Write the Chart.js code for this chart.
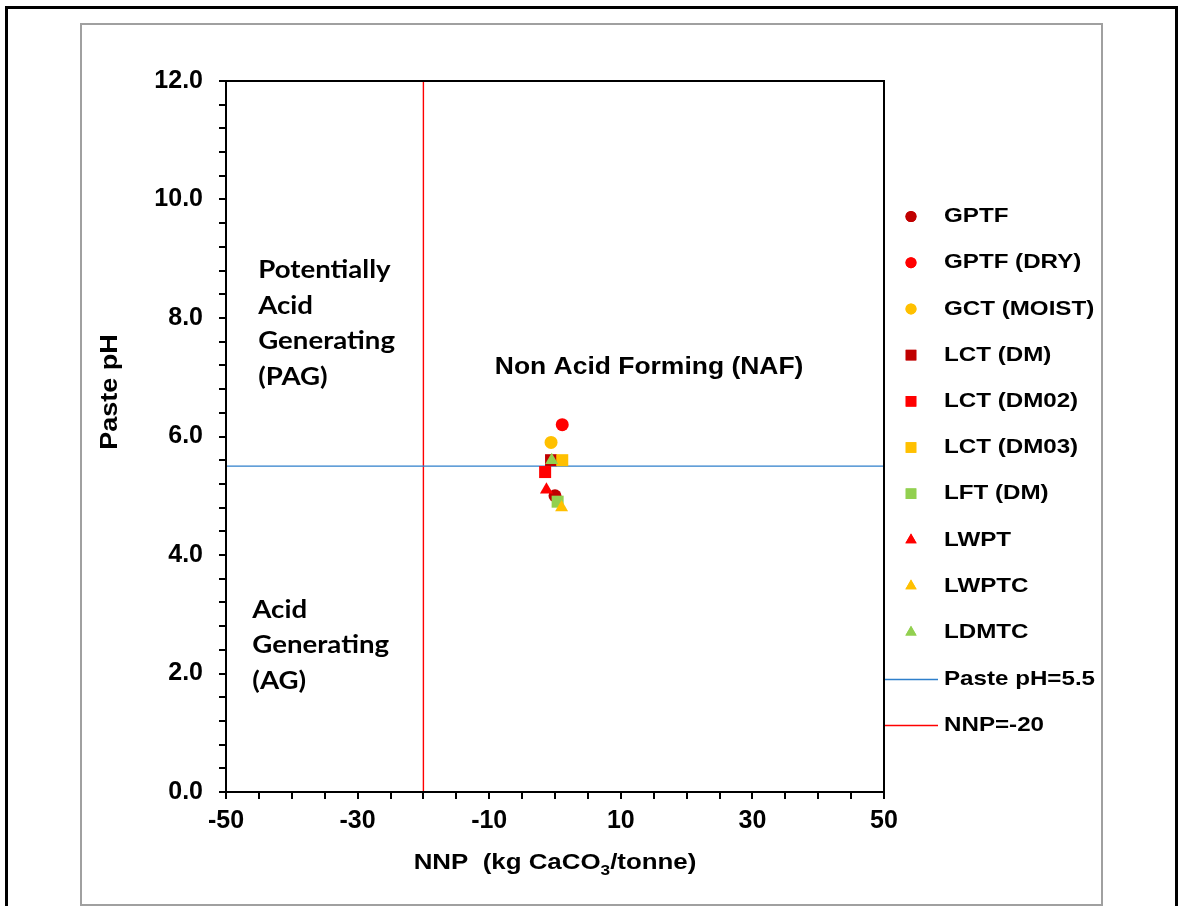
<!DOCTYPE html>
<html>
<head>
<meta charset="utf-8">
<script src="https://cdn.jsdelivr.net/npm/chart.js@4/dist/chart.umd.min.js"></script>
<style>
html,body{margin:0;padding:0;background:#fff;}
#wrap{position:relative;width:1179px;height:906px;}
canvas{display:block;}
</style>
</head>
<body>
<div id="wrap"><canvas id="c" width="1179" height="906"></canvas></div>
<script>
// ---- data ----
const seriesNames = ["GPTF","GPTF (DRY)","GCT (MOIST)","LCT (DM)","LCT (DM02)","LCT (DM03)","LFT (DM)","LWPT","LWPTC","LDMTC"];
const seriesColors = ["#C00000","#FF0000","#FFC000","#C00000","#FF0000","#FFC000","#92D050","#FF0000","#FFC000","#92D050"];
const seriesShapes = ["circle","circle","circle","rect","rect","rect","rect","triangle","triangle","triangle"];
const nnpValues = [0.0, 1.1, -0.6, -0.6, -1.5, 1.1, 0.4, -1.3, 1.0, -0.5];
const phValues  = [5.0, 6.2, 5.9, 5.6, 5.4, 5.6, 4.9, 5.1, 4.8, 5.6];
const phLimitX = [-50, 50];
const phLimitY = [5.5, 5.5];
const nnpLimitX = [-20, -20];
const nnpLimitY = [0, 12];
const xTickLabels = [-50, -30, -10, 10, 30, 50];
const yTickLabels = [0, 2, 4, 6, 8, 10, 12];
const annotations = [
  {lines:["Potentially","Acid","Generating","(PAG)"], x:-45.1, y:8.8, align:"left", font:"Lato"},
  {lines:["Acid","Generating","(AG)"], x:-46.0, y:3.07, align:"left", font:"Lato"},
  {lines:["Non Acid Forming (NAF)"], x:14.3, y:7.17, align:"center", font:"Liberation Sans"}
];

const ARIAL = "'Liberation Sans', Arial, sans-serif";
const K = 1.15; // horizontal text stretch seen in the reference

function radiusFor(shape){ return shape==="rect" ? 8.5 : (shape==="triangle" ? 7.5 : 6.5); }
function sText(ctx, t, x, y, align){
  ctx.save(); ctx.translate(x,y); ctx.scale(K,1); ctx.textAlign=align; ctx.fillText(t,0,0); ctx.restore();
}

const datasets = [];
datasets.push({
  label:"Paste pH=5.5", type:"scatter", showLine:true,
  data: phLimitX.map((x,i)=>({x:x,y:phLimitY[i]})),
  borderColor:"#2E7FCB", borderWidth:1.3, pointRadius:0, order:100, _line:true
});
datasets.push({
  label:"NNP=-20", type:"scatter", showLine:true,
  data: nnpLimitX.map((x,i)=>({x:x,y:nnpLimitY[i]})),
  borderColor:"#FF0000", borderWidth:1.4, pointRadius:0, order:101, _line:true
});
seriesNames.forEach((n,i)=>{
  datasets.push({
    label:n, type:"scatter",
    data:[{x:nnpValues[i], y:phValues[i]}],
    backgroundColor:seriesColors[i], borderColor:seriesColors[i], borderWidth:0,
    pointStyle:seriesShapes[i], pointRadius:radiusFor(seriesShapes[i]),
    pointHoverRadius:radiusFor(seriesShapes[i]),
    order:50 - i
  });
});

const framePlugin = {
  id:"frames",
  beforeDraw(chart){
    const ctx = chart.ctx;
    ctx.save();
    ctx.fillStyle="#fff"; ctx.fillRect(0,0,chart.width,chart.height);
    ctx.strokeStyle="#000"; ctx.lineWidth=3;
    ctx.strokeRect(6.5,7.5,1170,920);
    ctx.strokeStyle="#A0A0A0"; ctx.lineWidth=2;
    ctx.strokeRect(81,24,1021,881);
    ctx.restore();
  },
  afterDatasetsDraw(chart){
    const ctx = chart.ctx, a = chart.chartArea;
    ctx.save();
    ctx.strokeStyle="#000"; ctx.lineWidth=2;
    ctx.strokeRect(a.left, a.top, a.right-a.left, a.bottom-a.top);
    // annotations
    const xs = chart.scales.x, ys = chart.scales.y;
    ctx.fillStyle="#000"; ctx.textBaseline="middle";
    annotations.forEach(an=>{
      ctx.font = (an.font==="Lato" ? "bold 24px Lato, sans-serif" : "bold 23px "+ARIAL);
      const px = xs.getPixelForValue(an.x), py = ys.getPixelForValue(an.y);
      an.lines.forEach((t,k)=>sText(ctx, t, px, py + k*35.5, an.align));
    });
    // x-axis title with subscript
    const parts = [["NNP  (kg CaCO",0],["3",1],["/tonne)",0]];
    const big = "bold 22.5px "+ARIAL, small = "bold 15px "+ARIAL;
    let w=0;
    parts.forEach(p=>{ctx.font = p[1]?small:big; w+=ctx.measureText(p[0]).width*K;});
    let cx = 555 - w/2;
    const ty = 863;
    parts.forEach(p=>{
      ctx.font = p[1]?small:big;
      sText(ctx, p[0], cx, p[1]? ty+8 : ty, "left");
      cx += ctx.measureText(p[0]).width*K;
    });
    // y-axis title
    ctx.save();
    ctx.translate(111, 392);
    ctx.rotate(-Math.PI/2);
    ctx.font = "bold 23.5px "+ARIAL;
    sText(ctx, "Paste pH", 0, 0, "center");
    ctx.restore();
    // legend
    const ly0 = 216.5, step = 46.2, mx = 911, tx = 944;
    ctx.font = "bold 21px "+ARIAL; ctx.textBaseline="middle";
    chart.data.datasets.filter(d=>!d._line).forEach((d,k)=>{
      const y = ly0 + k*step;
      ctx.fillStyle = d.backgroundColor;
      const r = d.pointStyle==="rect" ? 7.5 : (d.pointStyle==="triangle" ? 6.5 : 5.5);
      Chart.helpers.drawPoint(ctx, {pointStyle:d.pointStyle, radius:r, borderWidth:0}, mx, y);
      ctx.fill();
      ctx.fillStyle="#000";
      sText(ctx, d.label, tx, y, "left");
    });
    const lines = chart.data.datasets.filter(d=>d._line);
    lines.forEach((d,k)=>{
      const y = Math.round(ly0 + (10+k)*step) + 0.5;
      ctx.strokeStyle = d.borderColor; ctx.lineWidth = 1.3;
      ctx.beginPath(); ctx.moveTo(885,y); ctx.lineTo(938,y); ctx.stroke();
      ctx.fillStyle="#000";
      sText(ctx, d.label, tx, y, "left");
    });
    ctx.restore();
  }
};

new Chart(document.getElementById("c"), {
  type:"scatter",
  data:{datasets:datasets},
  options:{
    responsive:false, animation:false, devicePixelRatio:1,
    layout:{padding:{left:0, top:81, right:295, bottom:0}},
    plugins:{legend:{display:false}, tooltip:{enabled:false}, title:{display:false}},
    scales:{
      x:{
        type:"linear", min:-50, max:50,
        afterFit(s){ s.height = 114; },
        afterBuildTicks(s){ const t=[]; for(let v=-50; v<=50; v+=5) t.push({value:v}); s.ticks=t; },
        ticks:{
          autoSkip:false, maxRotation:0, padding:7, color:"#000",
          font:{family:ARIAL, size:25, weight:"bold"},
          callback(v){ return xTickLabels.includes(Math.round(v)) && Math.abs(v-Math.round(v))<1e-6 ? String(Math.round(v)) : ""; }
        },
        grid:{drawOnChartArea:false, drawTicks:true, tickLength:7, color:"#000", lineWidth:2},
        border:{display:true, color:"#000", width:2}
      },
      y:{
        type:"linear", min:0, max:12,
        afterFit(s){ s.width = 226; },
        afterBuildTicks(s){ const t=[]; for(let k=0; k<=30; k++) t.push({value:Math.round(k*0.4*10)/10}); s.ticks=t; },
        ticks:{
          autoSkip:false, padding:16, color:"#000",
          font:{family:ARIAL, size:25, weight:"bold"},
          callback(v){ const r=Math.round(v); return (Math.abs(v-r)<1e-6 && yTickLabels.includes(r)) ? r.toFixed(1) : ""; }
        },
        grid:{drawOnChartArea:false, drawTicks:true, tickLength:7, color:"#000", lineWidth:2},
        border:{display:true, color:"#000", width:2}
      }
    }
  },
  plugins:[framePlugin]
});
</script>
</body>
</html>
